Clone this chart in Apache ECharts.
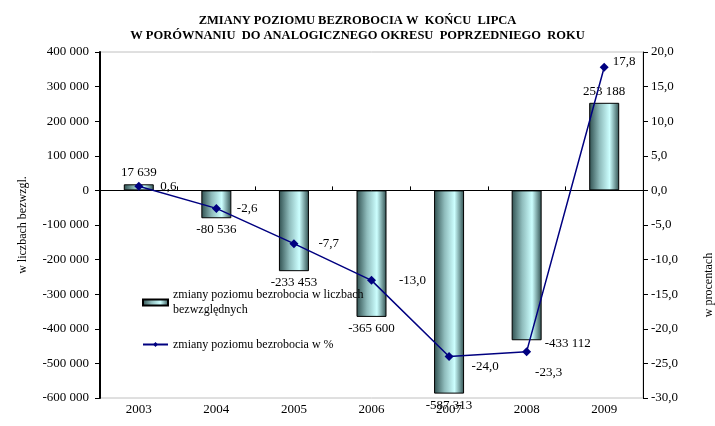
<!DOCTYPE html>
<html>
<head>
<meta charset="utf-8">
<script src="https://cdn.jsdelivr.net/npm/echarts@6/dist/echarts.min.js"></script>
<style>
  html, body { margin: 0; padding: 0; background: #fff; }
  #main { width: 715px; height: 426px; }
</style>
</head>
<body>
<div id="main"></div>
<script>
// dane z wykresu
const lata = ['2003', '2004', '2005', '2006', '2007', '2008', '2009'];
const zmianyLiczby = [17639, -80536, -233453, -365600, -587313, -433112, 253188];
const zmianyProc = [0.6, -2.6, -7.7, -13.0, -24.0, -23.3, 17.8];

const FONT = '"Liberation Serif", "Times New Roman", serif';

function fmtTys(v) {
  return String(v).replace(/\B(?=(\d{3})+(?!\d))/g, ' ');
}
function fmtProc(v) {
  return v.toFixed(1).replace('.', ',');
}

// gradient "walca" na slupkach
const walec = new echarts.graphic.LinearGradient(0, 0, 1, 0, [
  { offset: 0, color: '#2f4f4f' },
  { offset: 0.35, color: '#8fbcbc' },
  { offset: 0.68, color: '#ccffff' },
  { offset: 1, color: '#2f4f4f' }
]);

// etykiety slupkow
const daneSlupki = zmianyLiczby.map((v, i) => {
  const item = { value: v, label: { position: v >= 0 ? 'top' : 'bottom' } };
  if (i === 5) {
    item.label = { position: ['100%', '100%'], offset: [3, 3], align: 'left', verticalAlign: 'middle' };
  }
  return item;
});

// etykiety linii
const przesuniecia = [[2, 0], [1, 0], [5, 0], [8, 0], [3, 10], [0, 0], [-11, -6]];
const daneLinia = zmianyProc.map((v, i) => {
  const item = { value: v, label: { position: 'right', distance: 15, offset: przesuniecia[i] } };
  if (i === 5) {
    item.label = { position: 'bottom', distance: 5, offset: [22, 5] };
  }
  return item;
});

var myChart = echarts.init(document.getElementById('main'));

myChart.setOption({
  animation: false,
  textStyle: { fontFamily: FONT },
  title: {
    text: 'ZMIANY POZIOMU BEZROBOCIA W  KOŃCU  LIPCA\nW PORÓWNANIU  DO ANALOGICZNEGO OKRESU  POPRZEDNIEGO  ROKU',
    left: 'center',
    top: 8,
    textStyle: {
      fontFamily: FONT,
      fontSize: 12.5,
      fontWeight: 'bold',
      color: '#000',
      lineHeight: 15
    }
  },
  legend: {
    orient: 'vertical',
    left: 142,
    top: 280,
    padding: 0,
    itemWidth: 25,
    itemHeight: 6,
    itemGap: 12,
    textStyle: { fontFamily: FONT, fontSize: 12, color: '#000', lineHeight: 15 },
    data: [
      { name: 'zmiany poziomu bezrobocia w liczbach\nbezwzględnych', icon: 'rect', textStyle: { padding: [15, 0, 0, 0] } },
      { name: 'zmiany poziomu bezrobocia w %' }
    ]
  },
  grid: {
    left: 100,
    right: 72,
    top: 52,
    bottom: 28,
    outerBoundsMode: 'none',
    containLabel: false,
    show: true,
    borderColor: '#c0c0c0',
    borderWidth: 1
  },
  xAxis: [
    {
      type: 'category',
      data: lata,
      axisLine: { onZero: true, onZeroAxisIndex: 0, lineStyle: { color: '#000', width: 1 } },
      axisTick: { show: true, length: 4, inside: true, lineStyle: { color: '#000' } },
      axisLabel: { show: false }
    },
    {
      type: 'category',
      data: lata,
      position: 'bottom',
      axisLine: { show: false },
      axisTick: { show: false },
      axisLabel: { fontFamily: FONT, fontSize: 13, color: '#000', margin: 5 }
    }
  ],
  yAxis: [
    {
      type: 'value',
      min: -600000,
      max: 400000,
      interval: 100000,
      name: 'w liczbach bezwzgl.',
      nameLocation: 'middle',
      nameRotate: 90,
      nameGap: 71,
      nameTextStyle: { fontFamily: FONT, fontSize: 12, color: '#000' },
      axisLine: { show: true, onZero: false, lineStyle: { color: '#000', width: 2 } },
      axisTick: { show: true, length: 5, lineStyle: { color: '#000' } },
      axisLabel: { fontFamily: FONT, fontSize: 13, color: '#000', margin: 11, formatter: fmtTys },
      splitLine: { show: false }
    },
    {
      type: 'value',
      min: -30,
      max: 20,
      interval: 5,
      position: 'right',
      name: 'w procentach',
      nameLocation: 'middle',
      nameRotate: 90,
      nameGap: 60,
      nameTextStyle: { fontFamily: FONT, fontSize: 12, color: '#000', padding: [0, 120, 0, 0] },
      axisLine: { show: true, onZero: false, lineStyle: { color: '#000', width: 1 } },
      axisTick: { show: true, length: 5, lineStyle: { color: '#000' } },
      axisLabel: { fontFamily: FONT, fontSize: 13, color: '#000', margin: 8, formatter: fmtProc },
      splitLine: { show: false }
    }
  ],
  series: [
    {
      name: 'zmiany poziomu bezrobocia w liczbach\nbezwzględnych',
      type: 'bar',
      xAxisIndex: 0,
      yAxisIndex: 0,
      barWidth: 30,
      data: daneSlupki,
      itemStyle: { color: walec, borderColor: '#000', borderWidth: 1 },
      label: {
        show: true,
        distance: 5,
        fontFamily: FONT,
        fontSize: 13,
        color: '#000',
        formatter: p => fmtTys(p.value)
      }
    },
    {
      name: 'zmiany poziomu bezrobocia w %',
      type: 'line',
      xAxisIndex: 0,
      yAxisIndex: 1,
      data: daneLinia,
      symbol: 'diamond',
      symbolSize: 9,
      lineStyle: { color: '#000080', width: 1.5 },
      itemStyle: { color: '#000080' },
      label: {
        show: true,
        fontFamily: FONT,
        fontSize: 13,
        color: '#000',
        formatter: p => fmtProc(p.value)
      },
      z: 5
    }
  ]
});
</script>
</body>
</html>
